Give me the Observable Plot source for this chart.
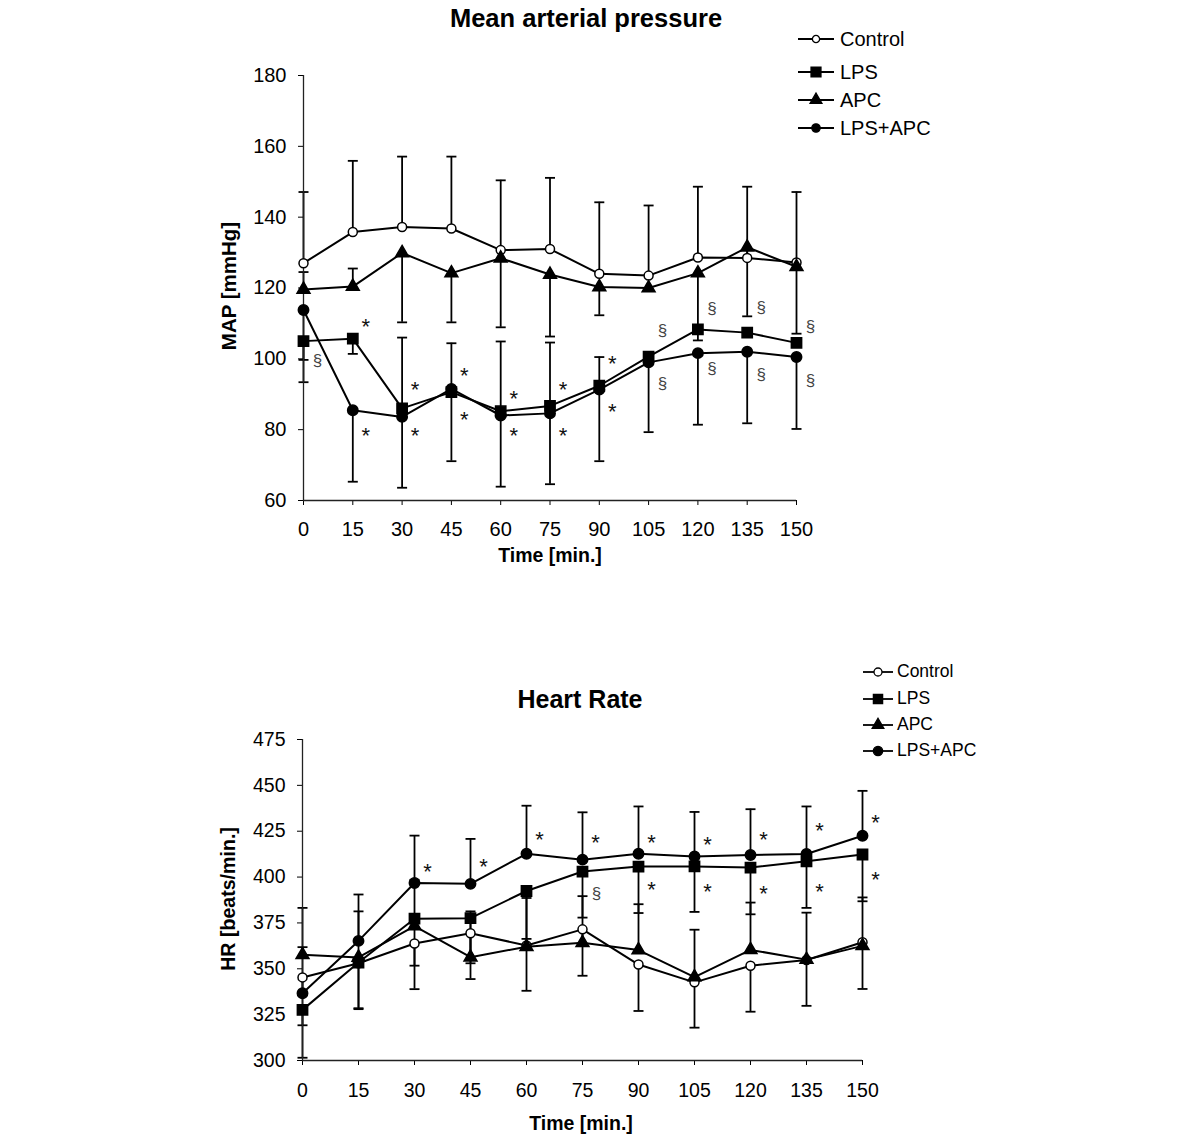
<!DOCTYPE html>
<html><head><meta charset="utf-8">
<script src="https://cdn.jsdelivr.net/npm/d3@7"></script>
<script src="https://cdn.jsdelivr.net/npm/@observablehq/plot@0.6"></script>
<style>
body{margin:0;background:#fff;font-family:"Liberation Sans",Arial,sans-serif;}
#root{position:relative;width:1200px;height:1147px;overflow:hidden;background:#fff}
.abs{position:absolute;line-height:1;white-space:nowrap;color:#000}
.c{transform:translate(-50%,-50%)}
.rot{transform:translate(-50%,-50%) rotate(-90deg)}
.lt{transform:translate(0,-50%)}
.plotwrap{position:absolute;left:0}
</style></head><body><div id="root"></div>
<script>
const times = [0, 15, 30, 45, 60, 75, 90, 105, 120, 135, 150];
const seriesNames = ["Control", "LPS", "APC", "LPS+APC"];

// Mean arterial pressure (mmHg)
const mapControl = [127.0, 135.8, 137.2, 136.8, 130.7, 131.0, 124.0, 123.5, 128.6, 128.5, 127.2];
const mapLPS     = [105.0, 105.7, 86.0, 90.6, 85.2, 86.7, 92.4, 100.6, 108.3, 107.4, 104.5];
const mapAPC     = [119.6, 120.4, 129.9, 124.2, 128.4, 123.8, 120.3, 120.0, 124.2, 131.5, 126.0];
const mapLPSAPC  = [113.8, 85.5, 83.6, 91.5, 84.0, 84.6, 91.3, 99.0, 101.6, 102.0, 100.5];
// error bar ends
const mapControlCap = [147.1, 155.9, 157.1, 157.1, 150.4, 151.1, 144.2, 143.3, 148.6, 148.6, 147.1];
const mapLPSCap     = [99.7, 101.4, 106.0, 104.4, 104.9, 104.6, 100.5, null, null, null, null];
const mapAPCCap     = [124.5, 125.5, 110.3, 110.3, 108.9, 106.3, 112.3, null, 105.2, 112.0, 107.1];
const mapLPSAPCCap  = [93.4, 65.3, 63.6, 71.1, 63.9, 64.6, 71.1, 79.3, 81.4, 81.8, 80.2];
const mapStars = [[15,110.7],[15,79.9],[30,92.8],[30,79.9],[45,96.9],[45,84.3],[60,90.3],[60,79.9],[75,92.8],[75,79.9],[90,100.2],[90,86.7]];
const mapSections = [[0,99.5],[105,108],[105,93.1],[120,114.2],[120,97.3],[135,114.6],[135,95.6],[150,109.1],[150,93.9]];
const mapYTicks = [60, 80, 100, 120, 140, 160, 180];

// Heart rate (beats/min)
const hrControl = [345.3, 353.0, 363.8, 369.4, 362.7, 371.5, 352.3, 342.6, 351.7, 354.8, 364.5];
const hrLPS     = [327.6, 353.4, 377.3, 377.6, 392.4, 403.0, 405.7, 405.8, 405.2, 408.6, 412.3];
const hrAPC     = [357.6, 356.2, 373.3, 356.3, 362.0, 364.2, 360.2, 345.5, 360.3, 355.0, 362.5];
const hrLPSAPC  = [336.7, 365.2, 396.8, 396.3, 412.7, 409.5, 412.7, 411.2, 412.0, 412.6, 422.5];
const hrControlCap = [319.2, 328.0, 338.9, 344.4, 338.0, 346.2, 327.0, 317.9, 326.6, 329.8, 339.0];
const hrLPSCap     = [301.5, 328.5, 351.7, 353.0, 366.3, 377.9, 380.4, 381.0, 379.7, 383.2, 386.8];
const hrAPCCap     = [383.2, 381.3, 398.5, 381.3, 388.6, 389.6, 385.2, 371.3, 386.1, 380.6, 388.9];
const hrLPSAPCCap  = [361.8, 390.5, 422.6, 420.8, 438.9, 435.3, 438.5, 435.5, 437.0, 438.5, 447.0];
const hrStars = [[30,405.9],[45,409],[60,423.3],[75,421.8],[90,421.8],[105,421],[120,423.7],[135,428.4],[150,433],[90,396.5],[105,395.2],[120,394.1],[135,395.2],[150,401.5]];
const hrSections = [[75,391]];
const hrYTicks = [300, 325, 350, 375, 400, 425, 450, 475];

// styles
const markerStyle = {
  "Control": {symbol: "circle", fill: "white", r: 4.5},
  "LPS": {symbol: "square", fill: "black", r: 5.8},
  "APC": {symbol: "triangle", fill: "black", r: 4.8},
  "LPS+APC": {symbol: "circle", fill: "black", r: 5.2}
};
const capSymbol = {draw(ctx, size) { const w = Math.sqrt(size / Math.PI); ctx.moveTo(-w, 0); ctx.lineTo(w, 0); }};
const FONT = "Liberation Sans, Arial, sans-serif";

function panel(cfg) {
  const rows = seriesNames.flatMap((s, k) => times.map((t, i) => ({series: s, t, v: cfg.values[k][i], cap: cfg.caps[k][i]})));
  const withCap = rows.filter(d => d.cap != null);
  const stars = cfg.stars.map(([t, v]) => ({t, v, s: "*"}));
  const secs = cfg.sections.map(([t, v]) => ({t, v, s: "§"}));
  const marks = [
    Plot.ruleX(withCap, {x: "t", y1: "v", y2: "cap", stroke: "black", strokeWidth: 1.8}),
    Plot.dot(withCap, {x: "t", y: "cap", symbol: capSymbol, r: 5, stroke: "black", fill: "none", strokeWidth: 1.8}),
    Plot.ruleX([times[0]], {stroke: "#222", strokeWidth: 1.3}),
    Plot.ruleY([cfg.yTicks[0]], {stroke: "#222", strokeWidth: 1.3}),
    Plot.line(rows, {x: "t", y: "v", z: "series", stroke: "black", strokeWidth: 2}),
    ...seriesNames.map(s => Plot.dot(rows.filter(d => d.series === s), {
      x: "t", y: "v", symbol: markerStyle[s].symbol, r: markerStyle[s].r,
      fill: markerStyle[s].fill, stroke: "black", strokeWidth: 1.5
    })),
    Plot.text(stars, {x: "t", y: "v", text: "s", dx: 13, dy: 6, fontSize: 22, fill: "#111"}),
    Plot.text(secs, {x: "t", y: "v", text: "s", dx: 14, fontSize: 17, fill: "#444"})
  ];
  return Plot.plot({
    width: 1200, height: cfg.height,
    marginLeft: cfg.ml, marginRight: cfg.mr, marginTop: cfg.mt, marginBottom: cfg.mb,
    style: {fontFamily: FONT, fontSize: cfg.fontSize + "px", color: "black", background: "white", overflow: "visible"},
    x: {domain: [times[0], times[times.length - 1]], ticks: times, tickSize: 5, tickPadding: cfg.xPad, label: null},
    y: {domain: [cfg.yTicks[0], cfg.yTicks[cfg.yTicks.length - 1]], ticks: cfg.yTicks, tickSize: 5, tickPadding: 12, label: null},
    marks
  });
}

const root = document.getElementById("root");

function addPlot(svg, top) {
  const w = document.createElement("div");
  w.className = "plotwrap"; w.style.top = top + "px";
  w.appendChild(svg); root.appendChild(w);
}
function addText(txt, x, y, size, bold, cls) {
  const d = document.createElement("div");
  d.className = "abs " + cls;
  d.style.left = x + "px"; d.style.top = y + "px";
  d.style.fontSize = size + "px"; d.style.fontWeight = bold ? "bold" : "normal";
  d.textContent = txt; root.appendChild(d);
}
function addLegend(x0, x1, textX, ys, size, radii) {
  const symTypes = {circle: d3.symbolCircle, square: d3.symbolSquare, triangle: d3.symbolTriangle};
  seriesNames.forEach((s, k) => {
    const len = x1 - x0;
    const svg = d3.create("svg").attr("width", len).attr("height", 20)
      .style("position", "absolute").style("left", x0 + "px").style("top", (ys[k] - 10) + "px");
    svg.append("line").attr("x1", 0).attr("x2", len).attr("y1", 10).attr("y2", 10).attr("stroke", "black").attr("stroke-width", 1.8);
    const st = markerStyle[s];
    svg.append("path").attr("transform", `translate(${len / 2},10)`)
      .attr("d", d3.symbol(symTypes[st.symbol], Math.PI * radii[k] * radii[k])())
      .attr("fill", st.fill).attr("stroke", "black").attr("stroke-width", 1.3);
    root.appendChild(svg.node());
    addText(s, textX, ys[k], size, false, "lt");
  });
}

// Top panel
addPlot(panel({
  values: [mapControl, mapLPS, mapAPC, mapLPSAPC],
  caps: [mapControlCap, mapLPSCap, mapAPCCap, mapLPSAPCCap],
  stars: mapStars, sections: mapSections, yTicks: mapYTicks,
  height: 580, ml: 303, mr: 404, mt: 75, mb: 80, fontSize: 20, xPad: 16
}), 0);
addText("Mean arterial pressure", 586, 19, 25.5, true, "c");
addText("Time [min.]", 550, 556, 19.5, true, "c");
addText("MAP [mmHg]", 229, 286, 20.5, true, "rot");
addLegend(798, 834, 840, [39, 71.5, 100.3, 128.3], 20, [3.6, 5.6, 4.4, 4.2]);

// Bottom panel
addPlot(panel({
  values: [hrControl, hrLPS, hrAPC, hrLPSAPC],
  caps: [hrControlCap, hrLPSCap, hrAPCCap, hrLPSAPCCap],
  stars: hrStars, sections: hrSections, yTicks: hrYTicks,
  height: 507, ml: 302, mr: 338, mt: 99, mb: 87, fontSize: 19.5, xPad: 18
}), 640);
addText("Heart Rate", 580, 699, 25, true, "c");
addText("Time [min.]", 581, 1124, 19.5, true, "c");
addText("HR [beats/min.]", 229, 899, 19.6, true, "rot");
addLegend(863, 893, 897, [671.7, 699, 724.7, 751], 17.5, [4, 5.2, 4.35, 4.7]);
</script></body></html>
